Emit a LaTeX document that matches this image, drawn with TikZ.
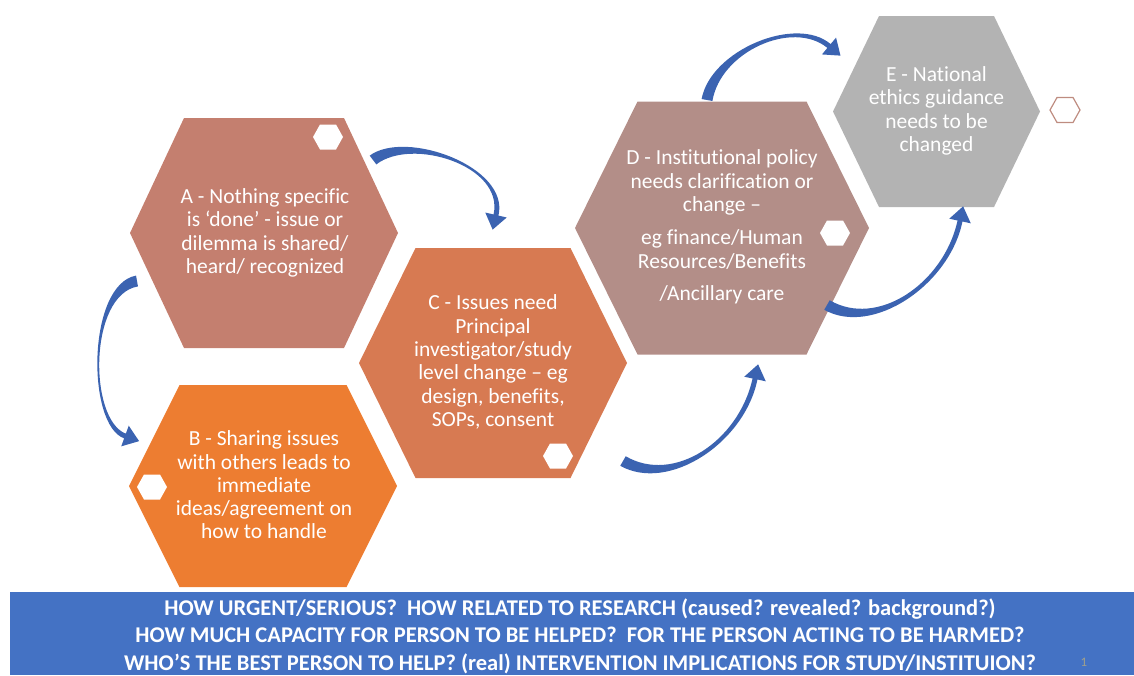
\documentclass[tikz,border=0pt]{standalone}
\usepackage{fontspec}
\setmainfont{Carlito}[Ligatures=CommonOff]
\usetikzlibrary{calc}

\definecolor{hexA}{RGB}{196,127,111}
\definecolor{hexB}{RGB}{237,125,49}
\definecolor{hexC}{RGB}{215,122,82}
\definecolor{hexD}{RGB}{179,142,136}
\definecolor{hexE}{RGB}{179,179,179}
\definecolor{barblue}{RGB}{68,114,196}
\definecolor{arrowblue}{RGB}{59,99,177}
\definecolor{rimbrown}{RGB}{190,140,128}
\definecolor{pagegray}{RGB}{160,160,140}

% fill colour, centre x, centre y, half width, half top edge, half height
\newcommand{\hexagon}[6]{%
  \fill[#1,shift={(#2,#3)}] (-#4,0) -- (-#5,-#6) -- (#5,-#6) -- (#4,0) -- (#5,#6) -- (-#5,#6) -- cycle;}

% tail, tail angle, tail pull, head, head angle, head pull
\newcommand{\bandarrow}[6]{%
  \fill[arrowblue] ($(#1)+(#2-90:5.5)$)
    .. controls ($(#1)+(#2:#3)+(#2-90:5)$) and ($(#4)+(#5+180:#6)+(#5-90:3)$) .. ($(#4)+(#5-90:2.5)$)
    -- ($(#4)+(#5-90:11)$) -- ($(#4)+(#5:15)$) -- ($(#4)+(#5+90:11)$) -- ($(#4)+(#5+90:2.5)$)
    .. controls ($(#4)+(#5+180:#6)+(#5+90:3)$) and ($(#1)+(#2:#3)+(#2+90:5)$) .. ($(#1)+(#2+90:5.5)$)
    -- cycle;}

\begin{document}
\begin{tikzpicture}[x=1pt,y=-1pt,
    hextext/.style={text=white,align=center,font=\fontsize{21.5}{23.3}\selectfont},
    bartext/.style={text=white,align=center,font=\bfseries\fontsize{22.5}{27.5}\selectfont}]
  \useasboundingbox (0,0) rectangle (1134,675);

  \hexagon{hexA}{264}{233}{134}{80}{115}
  \hexagon{hexB}{263}{486}{134}{83.5}{101}
  \hexagon{hexC}{493}{363}{134}{77.5}{115}
  \hexagon{hexD}{722}{228}{147}{84.5}{126.5}
  \hexagon{hexE}{936.5}{111.5}{103.5}{57.5}{95.5}

  \hexagon{white}{328}{137}{15}{8}{12.5}
  \hexagon{white}{152}{487}{15}{8}{12.5}
  \hexagon{white}{558}{456}{15}{8}{12.5}
  \hexagon{white}{835}{233}{15}{8}{12.5}
  \draw[rimbrown,line width=1.2pt,shift={(1065,110)}]
    (-15,0) -- (-8,-12.5) -- (8,-12.5) -- (15,0) -- (8,12.5) -- (-8,12.5) -- cycle;

  \draw
    (265,233) node[hextext] (A){A - Nothing specific\\is ‘done’ - issue or\\dilemma is shared/\\heard/ recognized}
    (264,485) node[hextext] (B){B - Sharing issues\\with others leads to\\immediate\\ideas/agreement on\\how to handle}
    (493,362) node[hextext] (C){C - Issues need\\Principal\\investigator/study\\level change – eg\\design, benefits,\\SOPs, consent}
    (722,227) node[hextext] (D){D - Institutional policy\\needs clarification or\\change –\\[10pt]eg finance/Human\\Resources/Benefits\\[9pt]/Ancillary care}
    (936.5,111) node[hextext] (E){E - National\\ethics guidance\\needs to be\\changed};

  \coordinate (tAC) at (373,160);
  \coordinate (hAC) at (496,215);
  \coordinate (tAB) at (137,281);
  \coordinate (hAB) at (125,436);
  \coordinate (tCD) at (623,461);
  \coordinate (hCD) at (755,379);
  \coordinate (tDE) at (707,100);
  \coordinate (hDE) at (829,46);
  \coordinate (tDEb) at (827,305);
  \coordinate (hDEb) at (960,221);

  \bandarrow{tAC}{-37}{45}{hAC}{103}{50}
  \bandarrow{tAB}{170}{50}{hAB}{20}{40}
  \bandarrow{tCD}{30}{55}{hCD}{-78}{65}
  \bandarrow{tDE}{-80}{50}{hDE}{40}{45}
  \bandarrow{tDEb}{30}{55}{hDEb}{-78}{65}

  \fill[barblue] (10,592) rectangle (1134,675);
  \node[bartext] (questions) at (580,636)
    {HOW URGENT/SERIOUS?\ \ HOW RELATED TO RESEARCH (caused? revealed? background?)\\
     HOW MUCH CAPACITY FOR PERSON TO BE HELPED?\ \ FOR THE PERSON ACTING TO BE HARMED?\\
     WHO’S THE BEST PERSON TO HELP? (real) INTERVENTION IMPLICATIONS FOR STUDY/INSTITUION?};
  \node[text=pagegray,font=\fontsize{13}{15}\selectfont] (page) at (1084,662) {1};
\end{tikzpicture}
\end{document}
